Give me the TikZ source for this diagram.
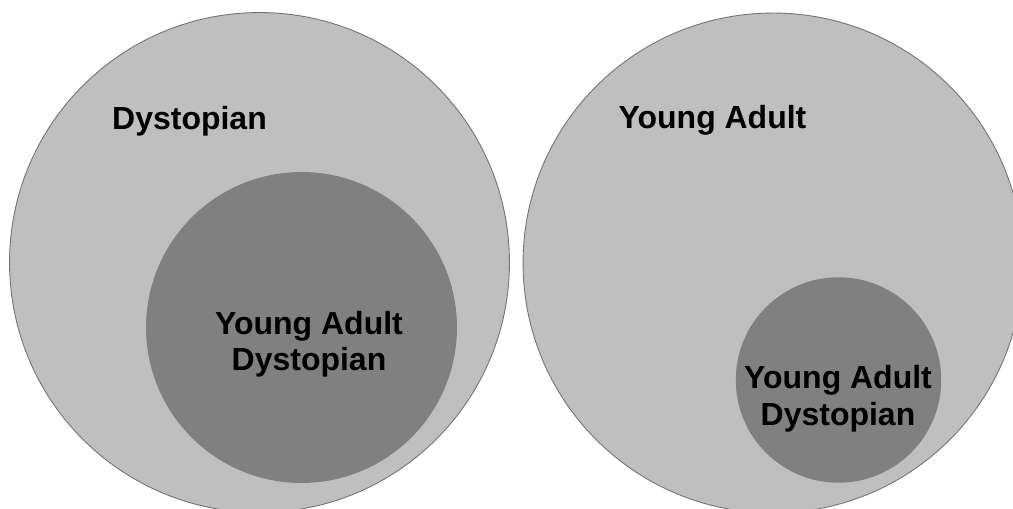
\documentclass[tikz,border=0pt]{standalone}
\usepackage{fontspec}
\setmainfont{Liberation Sans}
\usetikzlibrary{positioning}

\definecolor{setlight}{HTML}{BFBFBF}
\definecolor{setdark}{HTML}{808080}

\tikzset{
  outerset/.style={circle, fill=setlight, draw=black!55, line width=0.5pt, inner sep=0pt},
  innerset/.style={circle, fill=setdark, inner sep=0pt},
  setlabel/.style={font=\bfseries\fontsize{18.2}{20.5}\selectfont, align=center, anchor=base, inner sep=0pt}
}

\begin{document}
\begin{tikzpicture}[x=0.02cm, y=-0.02cm]

\useasboundingbox (0,0) rectangle (1013,509);
\clip (0,0) rectangle (1013,509);

% left: dystopian contains young adult dystopian
\node[outerset, minimum size=10cm] (dyst) at (259.5,262.5) {};
\node[innerset, minimum size=6.22cm] (dystya) at (301.5,327.5) {};

% right: young adult contains young adult dystopian
\node[outerset, minimum size=10cm] (ya) at (773,263) {};
\node[innerset, minimum size=4.11cm] (yadyst) at (838.5,380) {};

% labels (base = baseline of the last line)
\node[setlabel] (dystlab) at (189.5,130) {Dystopian};
\node[setlabel] (dystyalab) at (309,371) {Young Adult\\Dystopian};

\node[setlabel] (yalab) at (712.5,129) {Young Adult};
\node[setlabel] (yadystlab) at (838,425) {Young Adult\\Dystopian};

\end{tikzpicture}
\end{document}
